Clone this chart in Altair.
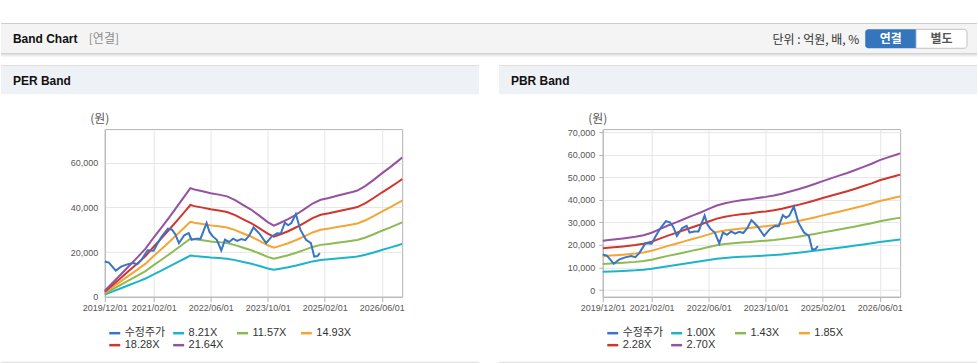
import altair as alt
import pandas as pd

# ---------------- data ----------------
X_TICKS = [0, 12, 26, 40, 54, 68]
X_LABELS = ["2019/12/01", "2021/02/01", "2022/06/01", "2023/10/01", "2025/02/01", "2026/06/01"]
X_END = 73

PRICE_NAME = "수정주가"
PRICE_IDX = [0, 1, 2.7, 4, 5.5, 7, 8, 9, 10.5, 12, 13, 14, 15.5, 16.5, 17.3, 18.2, 19.5, 20.6,
             21.3, 22.5, 23.5, 25, 25.7, 26.5, 27.5, 28.6, 29.5, 30.5, 31.5, 32.5, 33.5, 34.5,
             35.5, 36.5, 37.9, 39.6, 41, 42.3, 43.2, 44.2, 45, 45.8, 46.9, 48, 49.4, 50.6,
             51.4, 52.2, 52.8]
PRICE_VAL = [15800, 15300, 11700, 13500, 14500, 15100, 14600, 16500, 20800, 20600, 24000, 27000,
             30500, 30000, 28000, 24000, 27500, 28500, 25500, 26000, 26000, 33000, 29000, 27000,
             25500, 20700, 25500, 24500, 26000, 25000, 25800, 25300, 27500, 31000, 28400, 24000,
             27000, 28400, 28300, 33200, 32000, 33000, 37000, 30000, 25500, 24000, 18000, 18200,
             19500]

PER_NAMES = ["8.21X", "11.57X", "14.93X", "18.28X", "21.64X"]
PER_IDX = [0, 2, 4, 6, 8, 10, 12, 14, 16, 18, 20, 21, 22, 24, 26, 28, 30, 32, 34, 36, 38, 40,
           41.5, 43, 45, 47, 49, 51, 53, 55, 57, 59, 61, 62, 64, 66, 68, 70, 72, 73]
PER_821 = [1020, 2430, 3830, 5270, 6680, 8160, 10050, 11840, 13660, 15560, 17450, 18440, 18210,
           17910, 17570, 17340, 17040, 16390, 15560, 14760, 13730, 12670, 12070, 12520, 13170,
           13960, 14870, 15820, 16470, 16770, 17150, 17490, 17830, 18020, 18820, 19840, 20940,
           21970, 23070, 23640]
PER_1157 = [1440, 3420, 5400, 7430, 9410, 11500, 14170, 16680, 19250, 21920, 24600, 25990, 25670,
            25240, 24760, 24440, 24010, 23100, 21920, 20800, 19360, 17860, 17000, 17650, 18550,
            19680, 20960, 22300, 23210, 23630, 24170, 24650, 25130, 25400, 26520, 27970, 29520,
            30960, 32510, 33310]
PER_1493 = [1860, 4420, 6970, 9590, 12140, 14830, 18280, 21530, 24840, 28290, 31740, 33530,
            33120, 32560, 31940, 31530, 30980, 29800, 28290, 26840, 24970, 23040, 21940, 22770,
            23940, 25390, 27040, 28770, 29940, 30490, 31180, 31800, 32430, 32770, 34220, 36080,
            38080, 39950, 41950, 42980]
PER_1828 = [2280, 5410, 8530, 11740, 14870, 18160, 22390, 26360, 30410, 34630, 38860, 41050,
            40550, 39870, 39110, 38600, 37930, 36490, 34630, 32860, 30580, 28210, 26860, 27880,
            29310, 31090, 33110, 35220, 36660, 37340, 38180, 38940, 39700, 40120, 41900, 44180,
            46630, 48910, 51360, 52630]
PER_2164 = [2700, 6400, 10100, 13900, 17600, 21500, 26500, 31200, 36000, 41000, 46000, 48600,
            48000, 47200, 46300, 45700, 44900, 43200, 41000, 38900, 36200, 33400, 31800, 33000,
            34700, 36800, 39200, 41700, 43400, 44200, 45200, 46100, 47000, 47500, 49600, 52300,
            55200, 57900, 60800, 62300]

PBR_NAMES = ["1.00X", "1.43X", "1.85X", "2.28X", "2.70X"]
PBR_IDX = [0, 2, 5, 8, 10, 12, 14, 16, 18, 20, 22, 24, 26, 28, 30, 32, 34, 36, 38, 40, 42, 44,
           46, 48, 50, 52, 54, 56, 58, 60, 62, 64, 66, 68, 70, 72, 73]
PBR_100 = [8110, 8260, 8480, 8740, 9000, 9410, 10000, 10590, 11110, 11670, 12220, 12740, 13330,
           13890, 14260, 14520, 14740, 14890, 15110, 15300, 15520, 15820, 16190, 16560, 16960,
           17410, 17890, 18340, 18780, 19220, 19710, 20220, 20740, 21340, 21780, 22220, 22450]
PBR_143 = [11600, 11810, 12130, 12500, 12870, 13450, 14300, 15150, 15890, 16680, 17480, 18220,
           19070, 19860, 20390, 20760, 21080, 21290, 21610, 21870, 22190, 22610, 23140, 23670,
           24260, 24890, 25580, 26220, 26850, 27490, 28180, 28920, 29660, 30510, 31140, 31780,
           32090]
PBR_185 = [15010, 15280, 15690, 16170, 16650, 17400, 18500, 19600, 20560, 21580, 22610, 23570,
           24670, 25700, 26380, 26860, 27270, 27550, 27960, 28300, 28710, 29260, 29940, 30630,
           31380, 32200, 33100, 33920, 34740, 35560, 36450, 37410, 38370, 39470, 40290, 41110,
           41520]
PBR_228 = [18490, 18830, 19340, 19930, 20520, 21450, 22800, 24150, 25330, 26600, 27870, 29050,
           30400, 31670, 32510, 33100, 33610, 33950, 34450, 34870, 35380, 36060, 36900, 37750,
           38670, 39690, 40790, 41800, 42810, 43820, 44920, 46100, 47290, 48640, 49650, 50660,
           51170]
PBR_270 = [21900, 22300, 22900, 23600, 24300, 25400, 27000, 28600, 30000, 31500, 33000, 34400,
           36000, 37500, 38500, 39200, 39800, 40200, 40800, 41300, 41900, 42700, 43700, 44700,
           45800, 47000, 48300, 49500, 50700, 51900, 53200, 54600, 56000, 57600, 58800, 60000,
           60600]

SERIES_COLORS = ["#3a74c6", "#1db4cb", "#8dba52", "#f5a532", "#d1352d", "#9751a1"]

PER_Y_TICKS = [0, 20000, 40000, 60000]
PER_Y_LABELS = ["0", "20,000", "40,000", "60,000"]
PBR_Y_TICKS = [0, 10000, 20000, 30000, 40000, 50000, 60000, 70000]
PBR_Y_LABELS = ["0", "10,000", "20,000", "30,000", "40,000", "50,000", "60,000", "70,000"]

# ---------------- style ----------------
LAT = "Liberation Sans"
KOR = "Noto Sans CJK KR"
MIX = "Liberation Sans, Noto Sans CJK KR"
W, H = 298, 168
DUMMY = pd.DataFrame({"d": [0]})


def label_map(values, labels):
    return " : ".join(f"datum.value == {v} ? '{l}'" for v, l in zip(values, labels)) + " : ''"


def rect(x1, x2, y1, y2, color, **kw):
    return alt.Chart(DUMMY).mark_rect(color=color, **kw).encode(
        x=alt.value(x1), x2=alt.value(x2), y=alt.value(y1), y2=alt.value(y2))


def text(s, x, y, size=12, color="#111", font=KOR, weight="normal", align="left"):
    return alt.Chart(DUMMY).mark_text(
        text=s, font=font, fontSize=size, color=color, fontWeight=weight,
        align=align, baseline="middle").encode(x=alt.value(x), y=alt.value(y))


def panel(title, names, idx, series, y_domain, y_ticks, y_labels, y_tick_marks, page_layers):
    rows = []
    for name, vals in zip(names, series):
        for i, v in zip(idx, vals):
            rows.append({"idx": i, "value": v, "series": name})
    bands = pd.DataFrame(rows)
    price = pd.DataFrame({"idx": PRICE_IDX, "value": PRICE_VAL, "series": PRICE_NAME})

    domain = [PRICE_NAME] + names
    xenc = alt.X("idx:Q", scale=alt.Scale(domain=[0, X_END], nice=False, zero=False),
                 axis=alt.Axis(values=X_TICKS, labelExpr=label_map(X_TICKS, X_LABELS),
                               title=None, grid=True, domain=True, ticks=True, tickSize=5,
                               labelPadding=2, labelFlush=False, labelOverlap=False))
    yaxis = alt.Axis(values=y_ticks, labelExpr=label_map(y_ticks, y_labels), title=None,
                     grid=True, domain=True, ticks=y_tick_marks,
                     tickSize=4 if y_tick_marks else 0,
                     labelPadding=4 if y_tick_marks else 7, labelOverlap=False)
    yenc = alt.Y("value:Q", scale=alt.Scale(domain=y_domain, nice=False, zero=False), axis=yaxis)
    cenc = alt.Color("series:N", scale=alt.Scale(domain=domain, range=SERIES_COLORS),
                     legend=alt.Legend(title=None, orient="none", legendX=3, legendY=197.5,
                                       direction="horizontal", columns=4, symbolType="stroke",
                                       symbolSize=121, symbolStrokeWidth=2.5, labelFont=MIX,
                                       labelFontSize=11, labelColor="#333", columnPadding=2,
                                       rowPadding=0, gridAlign="all", padding=0, labelOffset=3))

    band_layer = alt.Chart(bands).mark_line(strokeWidth=2).encode(
        x=xenc, y=yenc, color=cenc, detail="series:N", order="idx:Q")
    price_layer = alt.Chart(price).mark_line(strokeWidth=2).encode(
        x=xenc, y=yenc, color=cenc, order="idx:Q")

    deco = [
        rect(-104, 375, -64, -63, "#d4d4d4"),
        rect(-104, 375, -63, -35, "#eef2f7"),
        rect(-104, 375, 233, 234, "#dedede"),
        text(title, -92, -48, size=12, color="#111", font=LAT, weight="bold"),
        text("(원)", -5, -10, size=12, color="#555", font=KOR, align="center"),
    ]
    return alt.layer(*(page_layers + deco + [band_layer, price_layer])).properties(width=W, height=H)


page = [
    rect(-104, 874, -128, 236, "#ffffff", opacity=0),
    rect(-104, 874, -106, -105, "#bdbdbd"),
    rect(-104, 874, -105, -76, "#f4f4f4"),
    rect(-104, 874, -76, -75, "#c6c6c6"),
    rect(-104, 874, -75, -74, "#dadada"),
    rect(-104, 874, -74, -73, "#e9e9e9"),
    rect(-104, 874, -73, -72, "#f5f5f5"),
    text("Band Chart", -92, -90, size=12, color="#111", font=LAT, weight="bold"),
    text("[연결]", -16, -90, size=12, color="#8a8a8a", font=KOR),
    text("단위 : 억원, 배, %", 756, -89.5, size=12, color="#333", font=KOR, align="right"),
    rect(762, 813, -100, -81, "#3475bd", cornerRadiusTopLeft=3, cornerRadiusBottomLeft=3),
    rect(813, 864, -100, -81, "#ffffff", stroke="#c2c2c2", strokeWidth=1,
         cornerRadiusTopRight=3, cornerRadiusBottomRight=3),
    text("연결", 787.5, -90.5, size=12, color="#ffffff", font=KOR, weight="bold", align="center"),
    text("별도", 838.5, -90.5, size=12, color="#555555", font=KOR, weight="bold", align="center"),
]

per = panel("PER Band", PER_NAMES, PER_IDX, [PER_821, PER_1157, PER_1493, PER_1828, PER_2164],
            [0, 75000], PER_Y_TICKS, PER_Y_LABELS, False, page)
pbr = panel("PBR Band", PBR_NAMES, PBR_IDX, [PBR_100, PBR_143, PBR_185, PBR_228, PBR_270],
            [-2960, 71330], PBR_Y_TICKS, PBR_Y_LABELS, True, [])

chart = alt.hconcat(per, pbr, spacing=201, bounds="flush").resolve_scale(
    color="independent", y="independent", x="independent").resolve_legend(
    color="independent").properties(padding=0, background="white").configure_view(
    stroke="#b3b3b3", strokeWidth=1).configure_axis(
    labelFont=LAT, labelFontSize=9, labelColor="#555", gridColor="#e6e6e6",
    domainColor="#b3b3b3", tickColor="#b3b3b3")

chart.save("out.html", embed_options={"renderer": "svg", "actions": False})
